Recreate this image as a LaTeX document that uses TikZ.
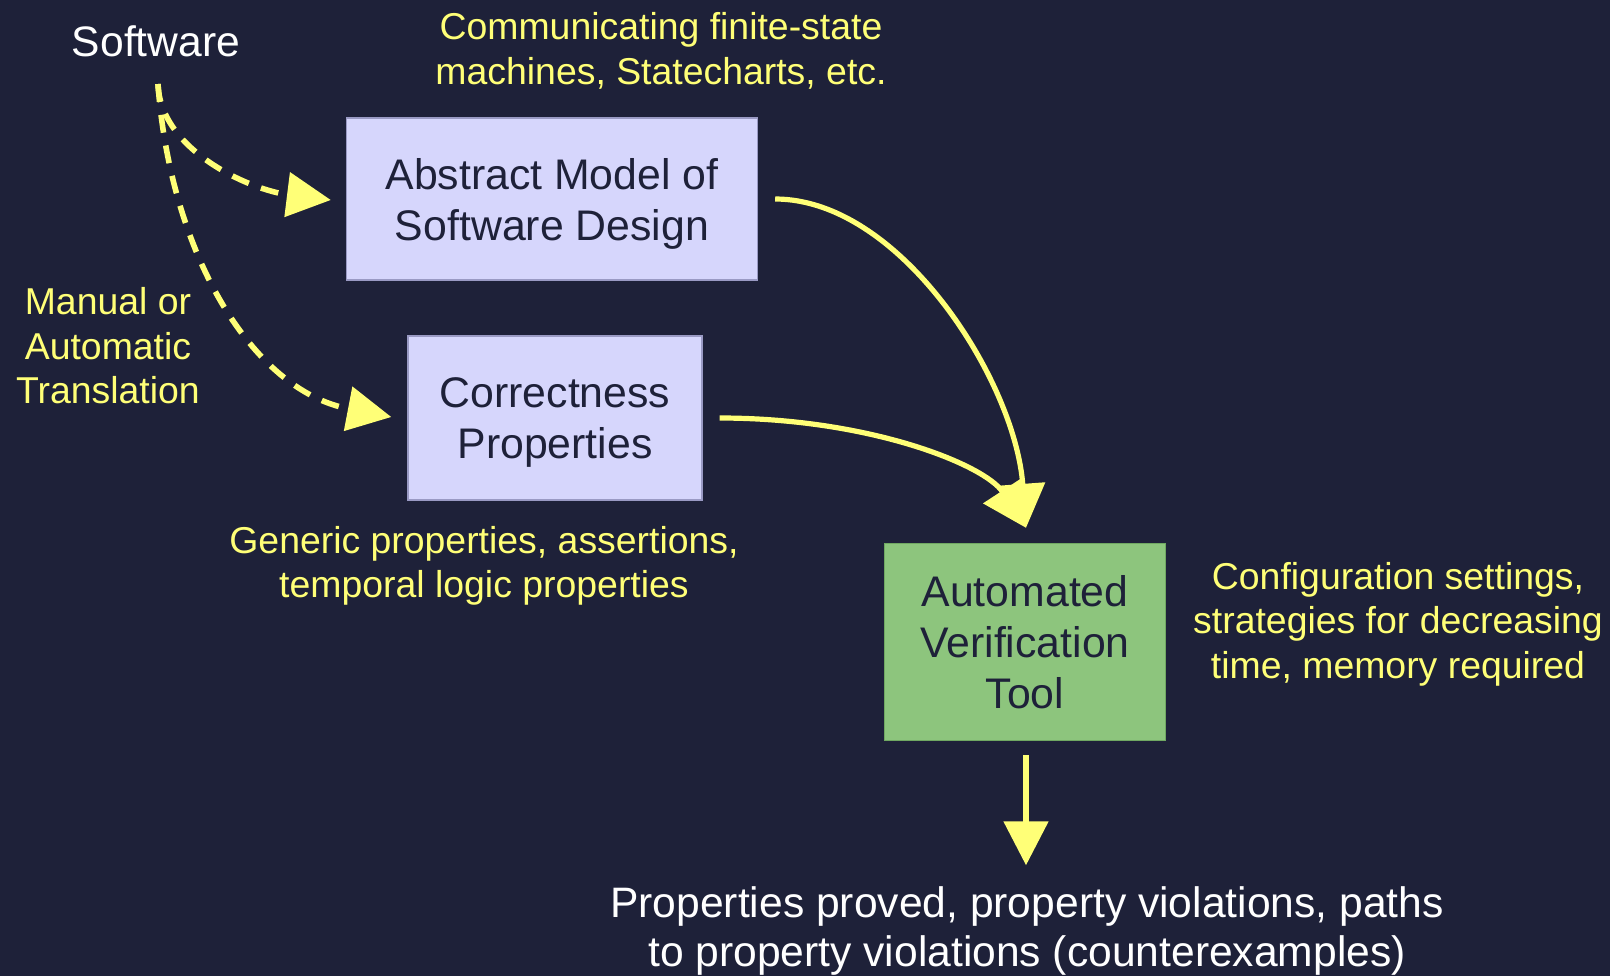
\documentclass[tikz,border=0pt]{standalone}
\usepackage{fontspec}
\setmainfont{Liberation Sans}
\usetikzlibrary{arrows.meta,calc}
\definecolor{bgnavy}{HTML}{1E2139}
\definecolor{lavender}{HTML}{D6D6FC}
\definecolor{lavedge}{HTML}{9A9AC4}
\definecolor{leaf}{HTML}{8DC57D}
\definecolor{leafedge}{HTML}{70A862}
\definecolor{hl}{HTML}{FFFF77}
\definecolor{boxtext}{HTML}{1E2139}
\begin{document}
\begin{tikzpicture}[x=0.5pt,y=-0.5pt,
  box/.style={draw=lavedge, fill=lavender, line width=0.7pt, inner sep=0pt,
    align=center, text=boxtext, font=\fontsize{21.4}{25.6}\selectfont},
  tool/.style={box, draw=leafedge, fill=leaf},
  note/.style={text=hl, align=center, inner sep=0pt,
    font=\fontsize{18.7}{22.3}\selectfont},
  plain/.style={text=white, align=center, inner sep=0pt,
    font=\fontsize{21.3}{24.5}\selectfont},
  flow/.style={draw=hl, line width=2.6pt, -{Triangle[length=22pt,width=22pt]}},
  trans/.style={flow, line width=2.8pt, dash pattern=on 9pt off 6.5pt}]
\fill[bgnavy] (0,0) rectangle (1610,976);
\useasboundingbox (0,0) rectangle (1610,976);

% main blocks
\node[box, minimum width=205.5pt, minimum height=81pt, text height=46pt] (abs) at (552,199)
  {Abstract Model of\\Software Design};
\node[box, minimum width=147pt, minimum height=82pt, text height=45pt] (cor) at (555,418)
  {Correctness\\Properties};
\node[tool, minimum width=140.5pt, minimum height=98.5pt] (auto) at (1025,642)
  {Automated\\Verification\\Tool};

% free text
\node[plain] (sw) at (156,41) {Software};
\node[plain] (res) at (1027,931)
  {Properties proved, property violations, paths\\to property violations (counterexamples)};
\node[note] (fsm) at (661,51) {Communicating finite-state\\machines, Statecharts, etc.};
\node[note] (man) at (108,346) {Manual or\\Automatic\\Translation};
\node[note] (gen) at (484,566) {Generic properties, assertions,\\temporal logic properties};
\node[note] (cfg) at (1398,624) {Configuration settings,\\strategies for decreasing\\time, memory required};

% translation arrows
\draw[trans] ($(sw.center)+(2,43)$) .. controls (160,150) and (250,190) .. ($(abs.west)+(-15,1)$);
\draw[trans] ($(sw.center)+(2,43)$) .. controls (170,250) and (250,390) .. ($(cor.west)+(-16,-1)$);

% inputs to the tool
\draw[flow] ($(abs.east)+(17,0)$) .. controls (900,199) and (1015,380) .. ($(auto.north)+(1,-15)$);
\draw[flow] ($(cor.east)+(17,0)$) .. controls (870,418) and (985,465) .. ($(auto.north)+(1,-15)$);

% output
\draw[flow] ($(auto.south)+(1,14)$) -- ($(res.north)+(-1,-21)$);
\end{tikzpicture}
\end{document}
